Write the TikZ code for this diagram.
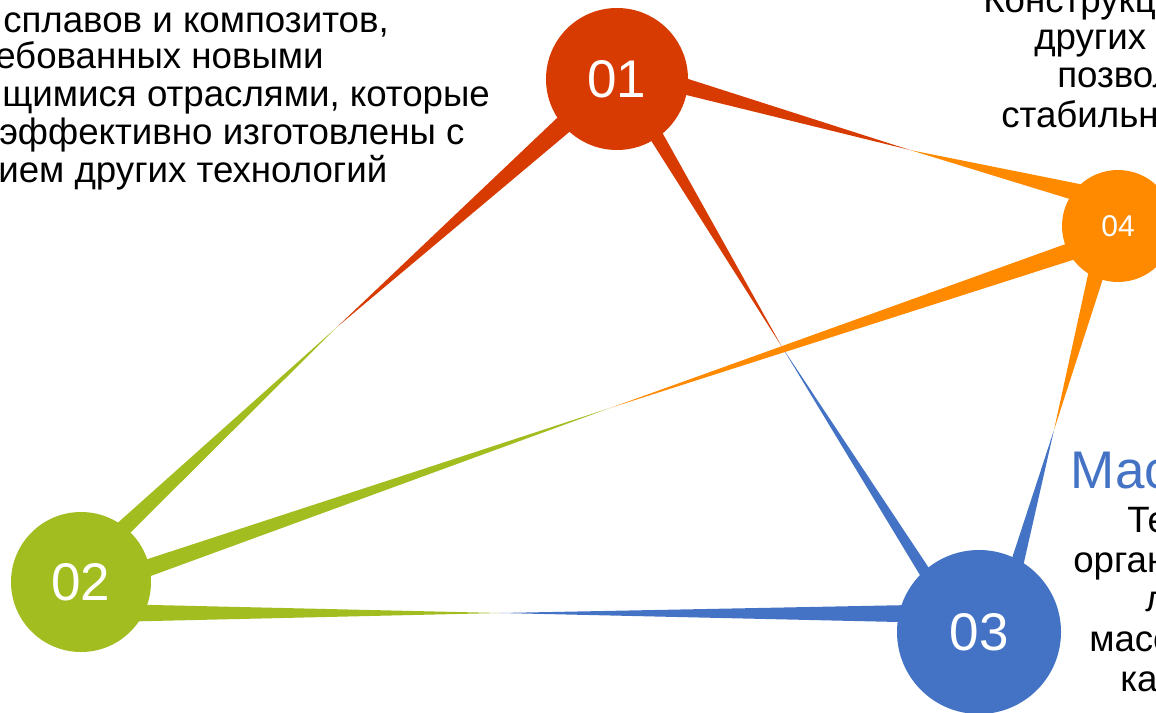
\documentclass[tikz,border=0pt]{standalone}
\usepackage{fontspec}
\setmainfont{Liberation Sans}
\usetikzlibrary{calc,backgrounds}
\definecolor{cred}{HTML}{D83B01}
\definecolor{corange}{HTML}{FF8A00}
\definecolor{cgreen}{HTML}{A2BD1F}
\definecolor{cblue}{HTML}{4472C4}
% wedge: #1 circle node, #2,#3 border angles of the base, #4 tip, #5 colour
\newcommand\wedgeto[5]{\fill[#5] ($(#1.#2)!-6pt!(#4)$) -- (#4) -- ($(#1.#3)!-6pt!(#4)$) -- cycle;}
\tikzset{
  numcircle/.style={circle, inner sep=0pt, text=white, font=\fontsize{39.75pt}{44pt}\selectfont},
  bodytext/.style={anchor=base west, inner sep=0pt, text=black, font=\fontsize{27.5pt}{31pt}\selectfont},
  titletext/.style={anchor=base west, inner sep=0pt, text=cblue, font=\fontsize{39.75pt}{44pt}\selectfont}
}
\begin{document}
\begin{tikzpicture}[x=0.75pt,y=-0.75pt]
\useasboundingbox (0,0) rectangle (1156,713);
\clip (0,0) rectangle (1156,713);
% circles
\node[numcircle, fill=cred, minimum size=106.5pt] (n1) at (617,79) {01};
\node[numcircle, fill=cgreen, minimum size=105pt] (n2) at (81,582) {02};
\node[numcircle, fill=cblue, minimum size=123pt] (n3) at (979,632) {03};
\node[numcircle, fill=corange, minimum size=84pt, font=\fontsize{22.5pt}{26pt}\selectfont] (n4) at (1118,226) {04};
% meeting points
\coordinate (m12) at (337,327);
\coordinate (m14) at (910,150);
\coordinate (m13) at (782,347);
\coordinate (m24) at (610,408);
\coordinate (m23) at (500,613);
\coordinate (m43) at (1054,430);
\begin{scope}[on background layer]
\fill[white] (0,0) rectangle (1156,713);
\wedgeto{n1}{213}{228}{m12}{cred}
\wedgeto{n2}{58}{45}{m12}{cgreen}
\wedgeto{n1}{0}{-13}{m14}{cred}
\wedgeto{n4}{132}{151}{m14}{corange}
\wedgeto{n1}{-61}{-50}{m13}{cred}
\wedgeto{n3}{128}{136.5}{m13}{cblue}
\wedgeto{n2}{19.5}{5}{m24}{cgreen}
\wedgeto{n4}{199}{217}{m24}{corange}
\wedgeto{n2}{-19}{-34}{m23}{cgreen}
\wedgeto{n3}{161}{173}{m23}{cblue}
\wedgeto{n4}{238}{254}{m43}{corange}
\wedgeto{n3}{66}{57}{m43}{cblue}
\end{scope}
% left text
\node[bodytext] (t1) at (3,33) {сплавов и композитов,};
\node[bodytext] (t2) at (-5,69) {ебованных новыми};
\node[bodytext] (t3) at (2,107) {щимися отраслями, которые};
\node[bodytext] (t4) at (-1,145) {эффективно изготовлены с};
\node[bodytext] (t5) at (-2,183) {ием других технологий};
% top right text
\node[bodytext] (r1) at (983,13) {Конструкц};
\node[bodytext] (r2) at (1034,50) {других};
\node[bodytext] (r3) at (1057,88) {позвол};
\node[bodytext] (r4) at (1001,128) {стабильн};
% bottom right text
\node[titletext] (b0) at (1070,488) {Мас};
\node[bodytext] (b1) at (1127,532) {Те};
\node[bodytext] (b2) at (1073,572) {орган};
\node[bodytext] (b3) at (1145,611) {л};
\node[bodytext] (b4) at (1089,651) {масс};
\node[bodytext] (b5) at (1120,691) {ка};
\end{tikzpicture}
\end{document}
